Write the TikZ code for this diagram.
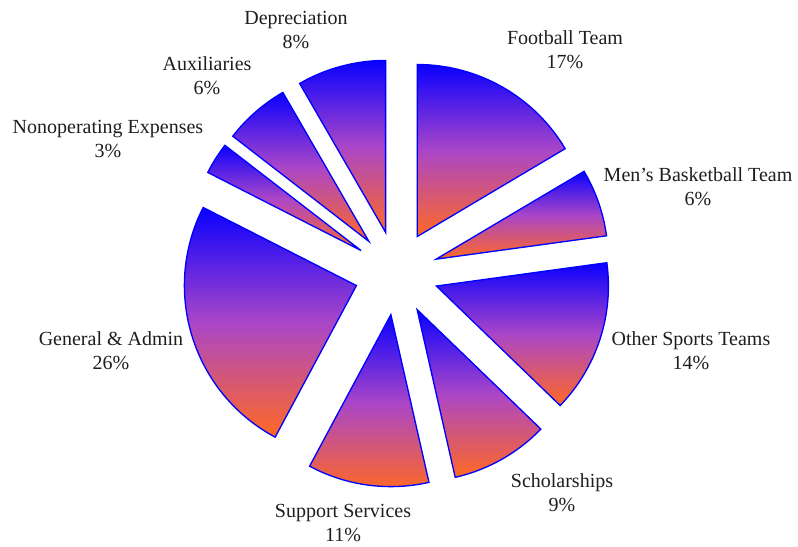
\documentclass[tikz,border=0pt]{standalone}
\usepackage{fontspec}
\setmainfont{Liberation Serif}
\definecolor{sliceblue}{RGB}{10,0,255}
\definecolor{slicemid}{RGB}{170,70,200}
\definecolor{sliceorange}{RGB}{255,105,35}
\definecolor{labelgray}{RGB}{30,30,30}
\tikzset{every picture/.style={line width=1pt}}
\tikzset{
  slice/.style={draw=blue, top color=sliceblue, bottom color=sliceorange, middle color=slicemid},
  pielabel/.style={align=center, inner sep=0.75pt, text=labelgray, font=\fontsize{15}{18}\selectfont}
}

\begin{document}
\begin{tikzpicture}[x=0.75pt,y=0.75pt]
            \useasboundingbox (-396.5,-273) rectangle (401.5,273);
            % exploded slices, clockwise from the top
            \foreach \a/\b in {90/30.7, 30.7/7.8, 7.8/-44, -44/-77.2, -77.2/-118.2, -118.2/-207, -207/-217.7, -217.7/-240, -240/-270}
            {
              \pgfmathsetmacro\m{(\a+\b)/2}
              \shade[slice] (\m:42) -- ++(\a:172) arc[start angle=\a, end angle=\b, radius=172] -- cycle;
            }
            % labels
            \node[pielabel] (football) at (168.5,223) {Football Team\\17\%};
            \node[pielabel] (basketball) at (301.5,86) {Men's Basketball Team\\6\%};
            \node[pielabel] (othersports) at (294.5,-78) {Other Sports Teams\\14\%};
            \node[pielabel] (scholarships) at (165.5,-220) {Scholarships\\9\%};
            \node[pielabel] (support) at (-53.5,-250) {Support Services\\11\%};
            \node[pielabel] (admin) at (-285.5,-78) {General \& Admin\\26\%};
            \node[pielabel] (nonoperating) at (-288.5,134) {Nonoperating Expenses\\3\%};
            \node[pielabel] (auxiliaries) at (-189.5,197) {Auxiliaries\\6\%};
            \node[pielabel] (depreciation) at (-100.5,243) {Depreciation\\8\%};
\end{tikzpicture}
\end{document}
